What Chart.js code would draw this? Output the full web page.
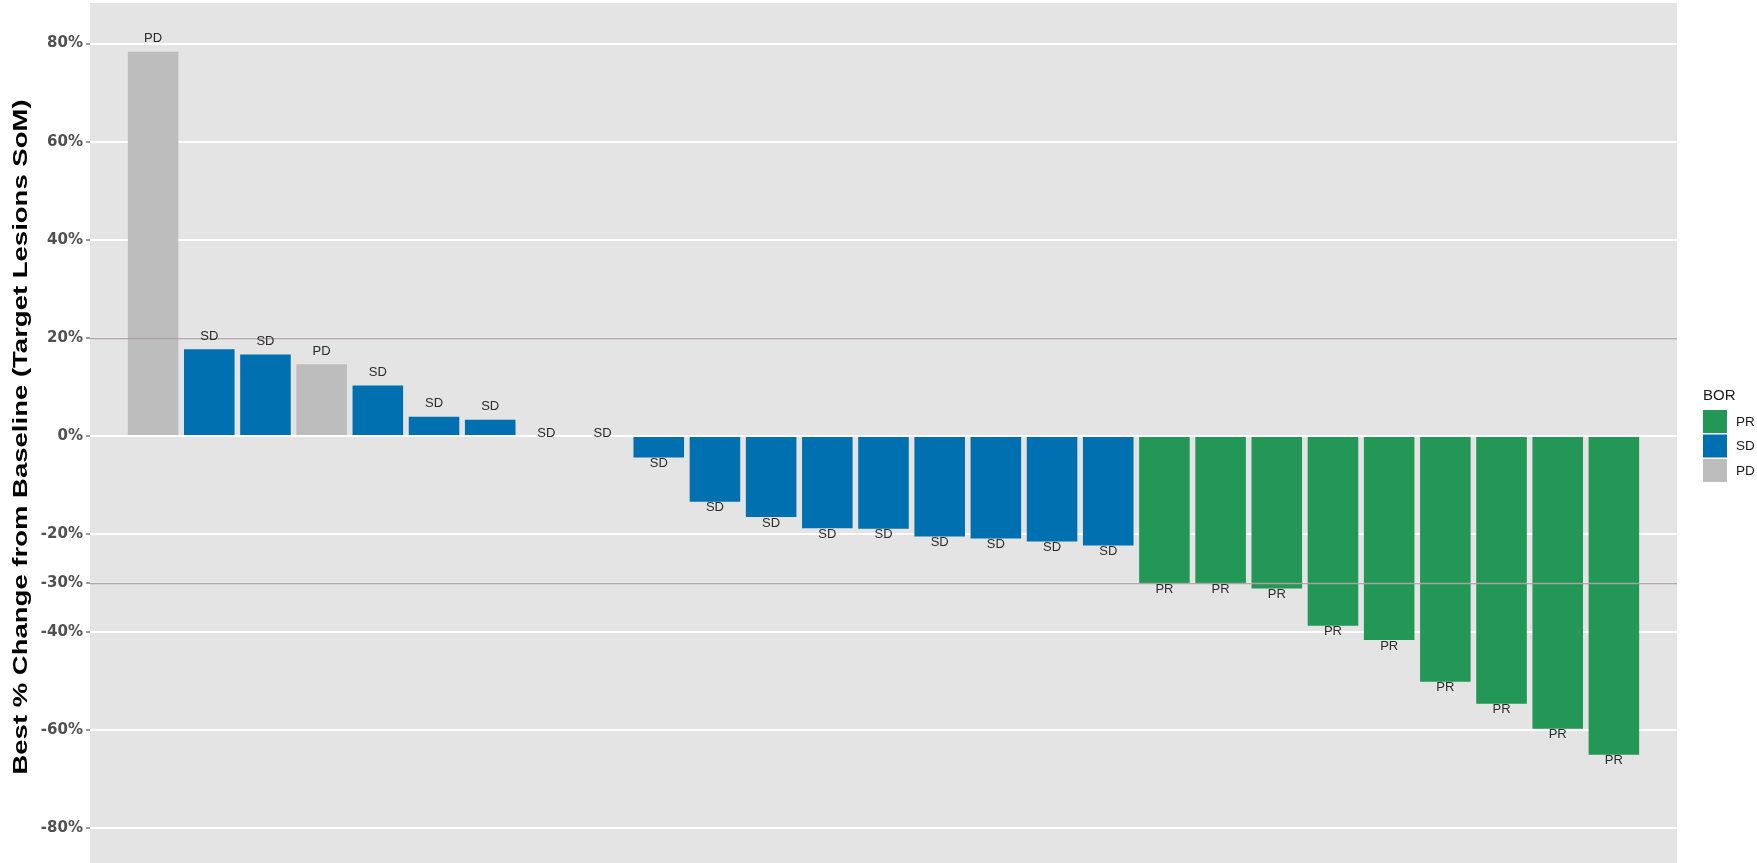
<!DOCTYPE html>
<html>
<head>
<meta charset="utf-8">
<title>Best % Change from Baseline</title>
<script src="https://cdn.jsdelivr.net/npm/chart.js@4.4.1/dist/chart.umd.min.js"></script>
<style>
  html, body { margin: 0; padding: 0; background: #ffffff; }
  canvas { display: block; }
</style>
</head>
<body>
<canvas id="waterfall" width="1757" height="863"></canvas>
<script>
// best overall response per patient, ordered by best % change
const bor = [
  'PD', 'SD', 'SD', 'PD', 'SD', 'SD', 'SD', 'SD', 'SD',
  'SD', 'SD', 'SD', 'SD', 'SD', 'SD', 'SD', 'SD', 'SD',
  'PR', 'PR', 'PR', 'PR', 'PR', 'PR', 'PR', 'PR', 'PR',
];
const bestChange = [
  78.3, 17.7, 16.6, 14.6, 10.3, 3.9, 3.3, 0, 0,
  -4.4, -13.4, -16.5, -18.8, -18.9, -20.5, -20.9, -21.5, -22.3,
  -30.0, -30.0, -31.1, -38.7, -41.6, -50.1, -54.6, -59.7, -65.0,
];
const yTicks = [-80, -60, -40, -30, -20, 0, 20, 40, 60, 80];
const refLines = [20, -30];
const legendOrder = ['PR', 'SD', 'PD'];
const borColors = { PR: '#239756', SD: '#0070b0', PD: '#bdbdbd' };

const panelBg = {
  id: 'panelBg',
  beforeDraw(chart) {
    const { ctx, chartArea: { left, top, width, height } } = chart;
    ctx.save();
    ctx.fillStyle = '#ffffff';
    ctx.fillRect(0, 0, chart.width, chart.height);
    ctx.fillStyle = '#e4e4e4';
    ctx.fillRect(left, top, width, height);
    ctx.restore();
  },
};

// reference lines at +20% / -30% and the BOR text next to each bar
const barDecor = {
  id: 'barDecor',
  afterDatasetsDraw(chart) {
    const { ctx, chartArea: { left, right } } = chart;
    const y = chart.scales.y;
    ctx.save();
    ctx.strokeStyle = 'rgba(172, 164, 164, 0.95)';
    ctx.lineWidth = 1.3;
    refLines.forEach((v) => {
      const py = Math.round(y.getPixelForValue(v)) + 0.5;
      ctx.beginPath();
      ctx.moveTo(left, py);
      ctx.lineTo(right, py);
      ctx.stroke();
    });

    ctx.fillStyle = '#2b2b2b';
    ctx.font = '13px "Liberation Sans", Arial, sans-serif';
    ctx.textAlign = 'center';
    ctx.textBaseline = 'middle';
    const meta = chart.getDatasetMeta(0);
    meta.data.forEach((bar, i) => {
      const v = bestChange[i];
      let off = 6;
      if (v > 0) off = -13;
      else if (v === 0) off = -3;
      ctx.fillText(bor[i], bar.x, bar.y + off);
    });
    ctx.restore();
  },
};

const sideText = {
  id: 'sideText',
  afterDraw(chart) {
    const { ctx, chartArea: { top, bottom, right } } = chart;
    ctx.save();
    // y axis title
    ctx.translate(21, (top + bottom) / 2 + 4);
    ctx.rotate(-Math.PI / 2);
    ctx.scale(1.31, 1);
    ctx.fillStyle = '#000000';
    ctx.font = 'bold 21px "Liberation Sans", Arial, sans-serif';
    ctx.textAlign = 'center';
    ctx.textBaseline = 'middle';
    ctx.fillText('Best % Change from Baseline (Target Lesions SoM)', 0, 0);
    ctx.restore();

    // legend
    ctx.save();
    const x0 = right + 26;
    ctx.fillStyle = '#1a1a1a';
    ctx.font = '15px "Liberation Sans", Arial, sans-serif';
    ctx.textAlign = 'left';
    ctx.textBaseline = 'middle';
    ctx.fillText('BOR', x0, 396);
    legendOrder.forEach((k, i) => {
      const ky = 410 + i * 24.5;
      ctx.fillStyle = borColors[k];
      ctx.fillRect(x0, ky, 24, 23);
      ctx.fillStyle = '#1a1a1a';
      ctx.font = '13.5px "Liberation Sans", Arial, sans-serif';
      ctx.fillText(k, x0 + 33, ky + 12);
    });
    ctx.restore();
  },
};

new Chart(document.getElementById('waterfall'), {
  type: 'bar',
  data: {
    datasets: [{
      data: bestChange.map((v, i) => ({ x: i, y: v })),
      backgroundColor: bor.map((b) => borColors[b]),
      borderWidth: 0,
      barPercentage: 0.9,
      categoryPercentage: 1,
    }],
  },
  options: {
    responsive: false,
    animation: false,
    layout: {
      padding: { top: 3, right: 80, left: 0, bottom: 0 },
    },
    plugins: {
      legend: { display: false },
      tooltip: { enabled: false },
    },
    scales: {
      x: {
        type: 'linear',
        min: -0.6,
        max: 26.6,
        display: false,
        afterBuildTicks(scale) {
          scale.ticks = bestChange.map((_, i) => ({ value: i }));
        },
      },
      y: {
        min: -87.04,
        max: 88.26,
        afterBuildTicks(scale) {
          scale.ticks = yTicks.map((v) => ({ value: v }));
        },
        afterFit(scale) {
          scale.width = 90;
          scale.paddingTop = 0;
          scale.paddingBottom = 0;
        },
        border: { display: false },
        grid: {
          color: '#ffffff',
          lineWidth: 2,
          tickColor: '#5a5a5a',
          tickLength: 4,
          tickWidth: 1.2,
        },
        ticks: {
          padding: 3,
          color: '#505050',
          font: { family: 'DejaVu Sans', size: 15, weight: 'bold' },
          callback: (v) => v + '%',
        },
      },
    },
  },
  plugins: [panelBg, barDecor, sideText],
});
</script>
</body>
</html>
